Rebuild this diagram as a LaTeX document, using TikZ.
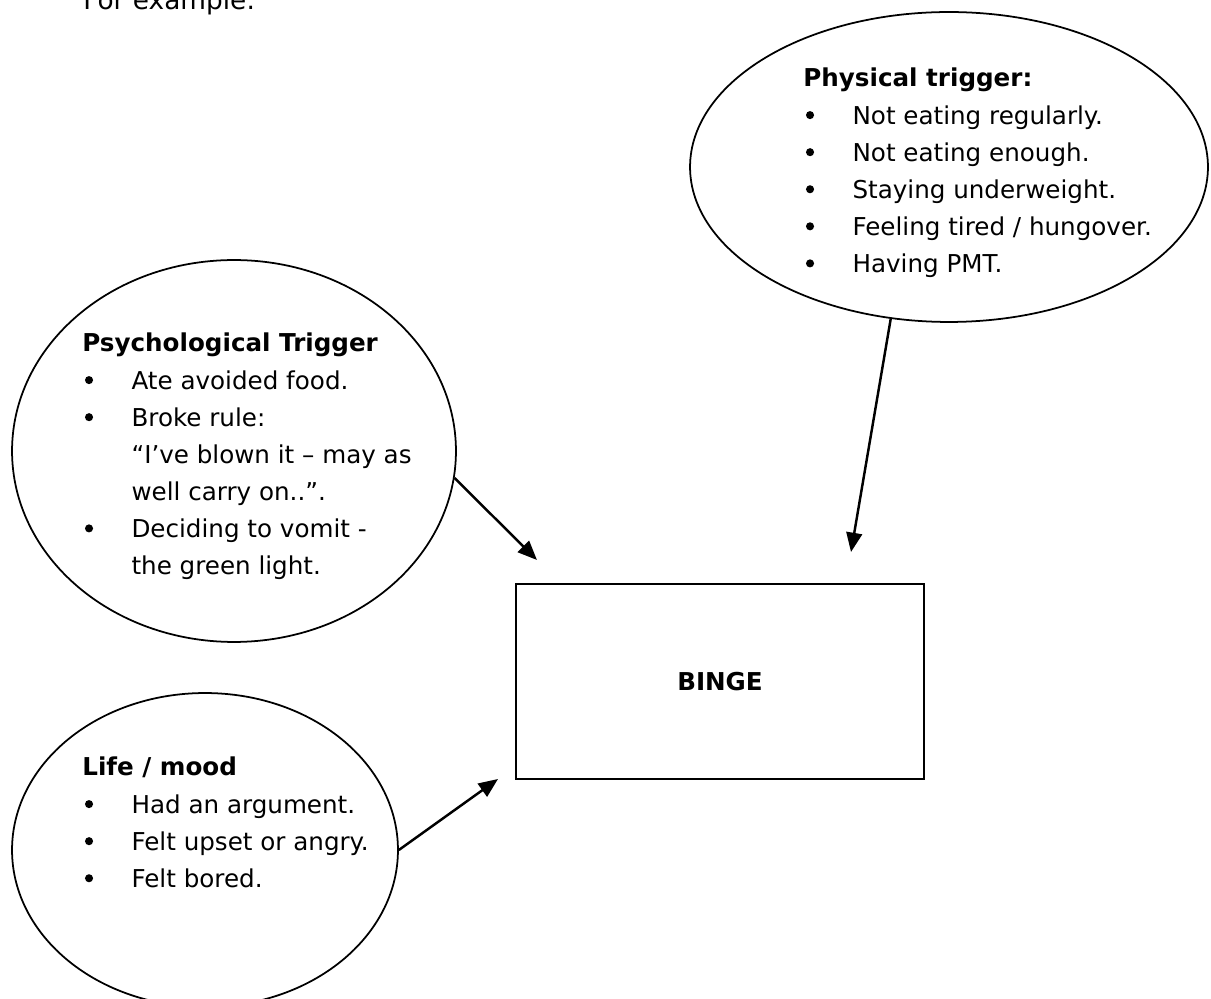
\documentclass[tikz,border=0pt]{standalone}
\usepackage{fontspec}
\setmainfont{DejaVu Sans}
\usetikzlibrary{shapes.geometric,arrows.meta}

\newcommand{\itm}{\hspace{1.5pt}\raisebox{2.8pt}{\tikz\fill (0,0) circle (2.3pt);}}

\tikzset{
  bubble/.style={draw, ellipse, inner sep=0pt, line width=1pt},
  listtext/.style={anchor=base west, inner sep=0pt, font=\fontsize{14}{21.1}\selectfont},
  bingebox/.style={draw, rectangle, line width=1.5pt, minimum width=8.16cm, minimum height=3.9cm,
    font=\fontsize{14}{17}\selectfont\bfseries},
  link/.style={-{Triangle[length=11pt,width=9pt]}, line width=1.4pt}
}

\begin{document}
\begin{tikzpicture}[x=0.02cm, y=-0.02cm]
            \path[use as bounding box, clip] (0,0) rectangle (1211,999);
            % heading, cut off at the top of the page
            \node[listtext, font=\fontsize{15}{18}\selectfont] (forex) at (83,10) {For example:};

            % the three bubbles
            \node[bubble, minimum width=10.36cm, minimum height=6.2cm] (phys) at (949,167) {};
            \node[bubble, minimum width=8.88cm, minimum height=7.64cm] (psych) at (234,451) {};
            \node[bubble, minimum width=7.72cm, minimum height=6.28cm] (life) at (205,850) {};

            \node[listtext] (physlist) at (803,87) {\begin{tabular}[t]{@{}p{28pt}@{}l@{}}
              \multicolumn{2}{@{}l@{}}{\bfseries Physical trigger:}\\
              \itm & Not eating regularly.\\
              \itm & Not eating enough.\\
              \itm & Staying underweight.\\
              \itm & Feeling tired / hungover.\\
              \itm & Having PMT.
            \end{tabular}};

            \node[listtext] (psychlist) at (82,352) {\begin{tabular}[t]{@{}p{28pt}@{}l@{}}
              \multicolumn{2}{@{}l@{}}{\bfseries Psychological Trigger}\\
              \itm & Ate avoided food.\\
              \itm & Broke rule:\\
                   & “I’ve blown it – may as\\
                   & well carry on..”.\\
              \itm & Deciding to vomit -\\
                   & the green light.
            \end{tabular}};

            \node[listtext] (lifelist) at (82,776) {\begin{tabular}[t]{@{}p{28pt}@{}l@{}}
              \multicolumn{2}{@{}l@{}}{\bfseries Life / mood}\\
              \itm & Had an argument.\\
              \itm & Felt upset or angry.\\
              \itm & Felt bored.
            \end{tabular}};

            % the binge box
            \node[bingebox] (binge) at (720,681.5) {BINGE};

            % arrows stop short of the box
            \coordinate (physend) at (851,552);
            \coordinate (psychend) at (537,560);
            \coordinate (lifeend) at (498,779);
            \draw[link] (phys.-111) -- (physend);
            \draw[link] (psych.-7) -- (psychend);
            \draw[link] (life.east) -- (lifeend);
        \end{tikzpicture}
\end{document}
